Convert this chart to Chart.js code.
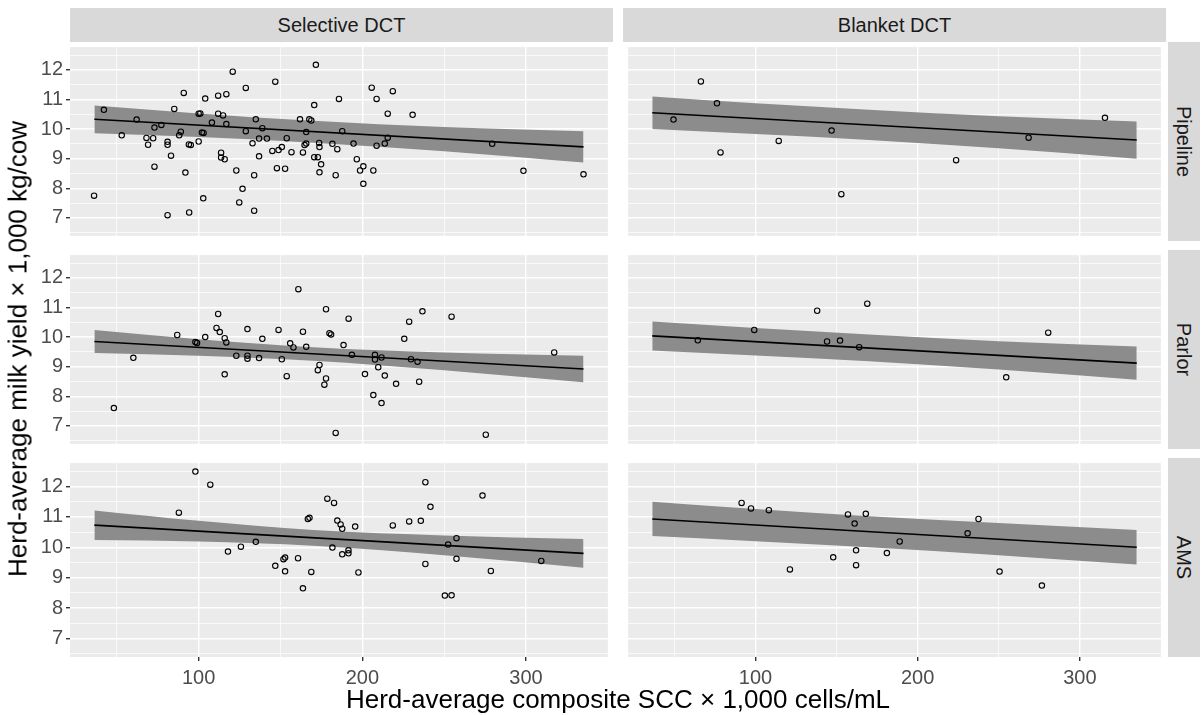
<!DOCTYPE html>
<html>
<head>
<meta charset="utf-8">
<script src="https://cdn.jsdelivr.net/npm/chart.js@4.4.1/dist/chart.umd.min.js"></script>
<style>
  body { margin: 0; background: #fff; font-family: "Liberation Sans", Arial, sans-serif; }
  #page { position: relative; width: 1203px; height: 715px; overflow: hidden; }
  .box { position: absolute; }
  .strip { position: absolute; background: #d9d9d9; color: #1a1a1a; font-size: 20px;
           display: flex; align-items: center; justify-content: center; white-space: nowrap; }
  .strip.side span { transform: rotate(90deg); }
  .title { position: absolute; color: #000; font-size: 26px; white-space: nowrap; transform: translate(-50%, -50%); }
</style>
</head>
<body>
<div id="page"></div>
<script>
// ===== DATA =====
const treatments = ["Selective DCT", "Blanket DCT"];
const systems = ["Pipeline", "Parlor", "AMS"];

const xGrid = [50, 100, 150, 200, 250, 300];
const xLabels = ["", "100", "", "200", "", "300"];
const yGrid = [6.5, 7, 7.5, 8, 8.5, 9, 9.5, 10, 10.5, 11, 11.5, 12, 12.5];
const yLabels = ["", "7", "", "8", "", "9", "", "10", "", "11", "", "12", ""];

// Selective DCT - Pipeline
const selPipeX = [36.1, 42.1, 53.0, 62.1, 68.1, 69.1, 72.2, 73.0, 73.0, 77.2,
  81.0, 81.0, 81.0, 83.1, 85.1, 88.1, 89.1, 90.9, 91.9, 94.0,
  95.2, 94.2, 100.0, 100.0, 101.0, 102.0, 103.0, 102.8, 104.0, 108.1,
  111.9, 111.9, 113.7, 113.7, 114.9, 115.9, 116.9, 116.9, 120.8, 123.0,
  124.8, 126.8, 128.8, 128.8, 132.9, 133.9, 133.9, 134.9, 136.9, 136.9,
  138.9, 141.7, 145.0, 146.8, 147.8, 148.8, 150.8, 152.8, 153.8, 156.7,
  161.9, 163.7, 164.7, 165.7, 165.7, 167.6, 168.8, 170.6, 170.6, 171.6,
  172.8, 173.6, 173.8, 173.8, 174.8,
  181.7, 183.7, 184.7, 185.7, 187.7, 194.6, 196.6, 198.6, 200.6, 200.6,
  205.7, 206.7, 208.7, 208.7, 213.7, 215.5, 215.5, 218.6, 230.7, 279.3, 298.4, 335.1];
const selPipeY = [7.75, 10.65, 9.79, 10.32, 9.70, 9.47, 9.69, 10.05, 8.73, 10.14,
  9.57, 9.47, 7.09, 9.10, 10.68, 9.79, 9.91, 11.22, 8.53, 9.48,
  9.46, 7.18, 9.58, 10.52, 10.53, 9.88, 9.87, 7.66, 11.03, 10.22,
  11.13, 10.52, 9.20, 9.04, 10.46, 8.98, 11.18, 10.17, 11.94, 8.60,
  7.52, 7.98, 11.39, 9.93, 9.52, 8.44, 7.24, 10.33, 9.68, 9.08,
  10.03, 9.68, 9.26, 11.60, 8.68, 9.29, 9.39, 8.66, 9.69, 9.22,
  10.33, 9.21, 9.46, 9.90, 9.51, 10.33, 10.29, 10.81, 9.05, 12.17,
  9.05, 9.53, 8.54, 9.39, 8.81,
  9.50, 8.44, 9.32, 11.02, 9.93, 9.51, 8.98, 8.60, 8.74, 8.15,
  11.40, 8.60, 11.02, 9.44, 9.51, 9.71, 10.52, 11.28, 10.48, 9.50, 8.59, 8.47];

// Selective DCT - Parlor
const selParX = [48.2, 60.1, 86.9, 98.0, 99.0, 104.0, 111.9, 110.9, 112.9, 115.9,
  116.9, 115.9, 123.0, 129.8, 129.8, 129.8, 136.9, 138.9, 148.8, 150.8,
  153.8, 155.9, 157.9, 160.9, 163.7, 165.7, 172.8, 173.8, 176.8, 177.8,
  177.8, 179.9, 180.9, 183.7, 191.6, 188.5, 193.6, 201.6, 206.7, 207.7,
  207.7, 209.7, 211.7, 211.7, 213.7, 220.6, 225.6, 228.6, 229.7, 233.7,
  234.7, 236.7, 254.5, 275.4, 317.2];
const selParY = [7.60, 9.30, 10.07, 9.83, 9.80, 10.00, 10.78, 10.31, 10.17, 9.96,
  9.82, 8.74, 9.37, 10.27, 9.37, 9.27, 9.29, 9.94, 10.24, 9.25,
  8.68, 9.79, 9.65, 11.62, 10.18, 9.67, 8.88, 9.06, 8.39, 8.60,
  10.94, 10.13, 10.09, 6.76, 10.62, 9.73, 9.40, 8.75, 8.04, 9.40,
  9.24, 8.98, 9.31, 7.77, 8.70, 8.42, 9.94, 10.52, 9.25, 9.17,
  8.49, 10.87, 10.69, 6.70, 9.48];

// Selective DCT - AMS
const selAmsX = [98.0, 107.1, 87.9, 117.9, 125.8, 134.9, 146.8, 151.8, 152.8, 152.8,
  160.7, 163.7, 166.7, 167.7, 168.8, 178.6, 181.7, 182.7, 184.7, 186.7,
  187.7, 187.7, 191.5, 191.5, 195.6, 197.6, 218.6, 228.6, 235.7, 238.5,
  238.5, 241.6, 250.4, 252.4, 254.5, 257.5, 257.5, 273.4, 278.5, 309.3];
const selAmsY = [12.49, 12.06, 11.14, 9.86, 10.02, 10.18, 9.39, 9.61, 9.66, 9.21,
  9.64, 8.65, 10.93, 10.97, 9.19, 11.60, 9.99, 11.46, 10.88, 10.75,
  10.61, 9.77, 9.90, 9.80, 10.68, 9.17, 10.72, 10.85, 10.87, 12.14,
  9.45, 11.33, 8.41, 10.09, 8.42, 10.30, 9.62, 11.70, 9.22, 9.55];

// Blanket DCT
const blaPipeX = [49.4, 66.3, 76.2, 78.4, 114.3, 146.9, 152.9, 223.7, 268.4, 315.5];
const blaPipeY = [10.32, 11.61, 10.87, 9.21, 9.60, 9.95, 7.80, 8.95, 9.71, 10.38];
const blaParX = [64.4, 99.2, 138.0, 144.1, 152.1, 163.9, 168.9, 254.6, 280.5];
const blaParY = [9.89, 10.24, 10.89, 9.85, 9.88, 9.66, 11.13, 8.64, 10.15];
const blaAmsX = [91.4, 97.2, 108.2, 121.2, 147.9, 157.0, 161.1, 162.0, 162.0, 168.0,
  181.0, 188.9, 230.8, 237.5, 250.5, 276.6];
const blaAmsY = [11.46, 11.28, 11.22, 9.27, 9.67, 11.08, 10.78, 9.90, 9.41, 11.10,
  9.81, 10.19, 10.46, 10.93, 9.20, 8.74];

// fitted lines (ends) and confidence band
const fitX = [36.3, 335.1];
const bandX = [36.3, 100, 170, 250, 335.1];
const selPipeFit = [10.33, 9.40];
const selPipeHi = [10.80, 10.53, 10.28, 10.07, 9.93];
const selPipeLo = [9.86, 9.73, 9.54, 9.25, 8.87];
const selParFit = [9.85, 8.92];
const selParHi = [10.24, 9.93, 9.66, 9.48, 9.37];
const selParLo = [9.46, 9.37, 9.20, 8.88, 8.47];
const selAmsFit = [10.73, 9.80];
const selAmsHi = [11.21, 10.87, 10.57, 10.39, 10.27];
const selAmsLo = [10.24, 10.19, 10.05, 9.74, 9.33];
const blaPipeFit = [10.55, 9.63];
const blaPipeHi = [11.10, 10.87, 10.65, 10.43, 10.26];
const blaPipeLo = [10.00, 9.83, 9.63, 9.35, 9.00];
const blaParFit = [10.04, 9.12];
const blaParHi = [10.53, 10.31, 10.09, 9.86, 9.68];
const blaParLo = [9.55, 9.38, 9.18, 8.90, 8.56];
const blaAmsFit = [10.93, 10.00];
const blaAmsHi = [11.50, 11.26, 11.02, 10.80, 10.57];
const blaAmsLo = [10.37, 10.20, 10.00, 9.74, 9.43];

const xMin = 21.4, xMax = 350.0;
const yMin = 6.39, yMax = 12.77;

// ===== LAYOUT =====
const colLeft = [70, 623];
const rowTop = [42, 250, 458];
const panelW = 543, panelH = 199;
const fontFamily = "'Liberation Sans', Arial, sans-serif";

const panels = [
  { row: 0, col: 0, x: selPipeX, y: selPipeY, fit: selPipeFit, hi: selPipeHi, lo: selPipeLo },
  { row: 1, col: 0, x: selParX, y: selParY, fit: selParFit, hi: selParHi, lo: selParLo },
  { row: 2, col: 0, x: selAmsX, y: selAmsY, fit: selAmsFit, hi: selAmsHi, lo: selAmsLo },
  { row: 0, col: 1, x: blaPipeX, y: blaPipeY, fit: blaPipeFit, hi: blaPipeHi, lo: blaPipeLo },
  { row: 1, col: 1, x: blaParX, y: blaParY, fit: blaParFit, hi: blaParHi, lo: blaParLo },
  { row: 2, col: 1, x: blaAmsX, y: blaAmsY, fit: blaAmsFit, hi: blaAmsHi, lo: blaAmsLo },
];

const page = document.getElementById("page");

// panel background
const panelBg = {
  id: "panelBg",
  beforeDraw(chart) {
    const { ctx, chartArea: a } = chart;
    ctx.save();
    ctx.fillStyle = "#ebebeb";
    ctx.fillRect(a.left, a.top, a.right - a.left, a.bottom - a.top);
    ctx.restore();
  },
};

function pairs(xs, ys) {
  return xs.map((v, i) => ({ x: v, y: ys[i] }));
}

function makePanel(p) {
  const left = p.col === 0;
  const bottom = p.row === 2;
  const axisW = left ? 70 : 0;
  const axisH = bottom ? 32 : 0;

  const box = document.createElement("div");
  box.className = "box";
  box.style.left = colLeft[p.col] - axisW + "px";
  box.style.top = rowTop[p.row] + "px";
  const canvas = document.createElement("canvas");
  canvas.width = panelW + axisW;
  canvas.height = panelH + axisH;
  box.appendChild(canvas);
  page.appendChild(box);

  const tickFont = { family: fontFamily, size: 20 };
  const xMajor = (c) => c.tick && xGrid.indexOf(c.tick.value) % 2 === 1;
  const yMajor = (c) => c.tick && yGrid.indexOf(c.tick.value) % 2 === 1;

  new Chart(canvas.getContext("2d"), {
    type: "scatter",
    data: {
      datasets: [
        {
          type: "scatter",
          data: pairs(p.x, p.y),
          pointStyle: "circle",
          pointRadius: 2.7,
          borderColor: "#000",
          borderWidth: 1.1,
          backgroundColor: "rgba(0,0,0,0)",
          order: 0,
        },
        {
          type: "line",
          data: pairs(fitX, p.fit),
          borderColor: "#000",
          borderWidth: 1.6,
          pointRadius: 0,
          fill: false,
          order: 1,
        },
        {
          type: "line",
          data: pairs(bandX, p.hi),
          borderColor: "rgba(0,0,0,0)",
          borderWidth: 0,
          pointRadius: 0,
          backgroundColor: "#8c8c8c",
          fill: "+1",
          cubicInterpolationMode: "monotone",
          order: 2,
        },
        {
          type: "line",
          data: pairs(bandX, p.lo),
          borderColor: "rgba(0,0,0,0)",
          borderWidth: 0,
          pointRadius: 0,
          fill: false,
          cubicInterpolationMode: "monotone",
          order: 3,
        },
      ],
    },
    options: {
      responsive: false,
      animation: false,
      events: [],
      layout: { padding: 0 },
      plugins: { legend: { display: false }, tooltip: { enabled: false } },
      scales: {
        x: {
          type: "linear",
          min: xMin,
          max: xMax,
          afterBuildTicks: (s) => { s.ticks = xGrid.map((v) => ({ value: v })); },
          afterFit: (s) => { s.height = axisH; s.paddingLeft = 0; s.paddingRight = 0; },
          border: { display: false },
          grid: {
            color: "#ffffff",
            lineWidth: (c) => (xMajor(c) ? 1.4 : 0.7),
            drawTicks: bottom,
            tickLength: 4,
            tickColor: (c) => (xMajor(c) ? "#333333" : "rgba(0,0,0,0)"),
          },
          ticks: {
            display: bottom,
            autoSkip: false,
            maxRotation: 0,
            padding: 5,
            color: "#4d4d4d",
            font: tickFont,
            callback: (v, i) => xLabels[i],
          },
        },
        y: {
          type: "linear",
          min: yMin,
          max: yMax,
          afterBuildTicks: (s) => { s.ticks = yGrid.map((v) => ({ value: v })); },
          afterFit: (s) => { s.width = axisW; s.paddingTop = 0; s.paddingBottom = 0; },
          border: { display: false },
          grid: {
            color: "#ffffff",
            lineWidth: (c) => (yMajor(c) ? 1.4 : 0.7),
            drawTicks: left,
            tickLength: 4,
            tickColor: (c) => (yMajor(c) ? "#333333" : "rgba(0,0,0,0)"),
          },
          ticks: {
            display: left,
            autoSkip: false,
            padding: 3,
            color: "#4d4d4d",
            font: tickFont,
            callback: (v, i) => yLabels[i],
          },
        },
      },
    },
    plugins: [panelBg],
  });
}

panels.forEach(makePanel);

// ===== STRIPS AND TITLES =====
treatments.forEach((t, c) => {
  const s = document.createElement("div");
  s.className = "strip";
  s.style.left = colLeft[c] + "px";
  s.style.top = "8px";
  s.style.width = panelW + "px";
  s.style.height = "34px";
  s.textContent = t;
  page.appendChild(s);
});

systems.forEach((t, r) => {
  const s = document.createElement("div");
  s.className = "strip side";
  s.style.left = "1168px";
  s.style.top = rowTop[r] + "px";
  s.style.width = "32px";
  s.style.height = panelH + "px";
  s.innerHTML = "<span>" + t + "</span>";
  page.appendChild(s);
});

const xTitle = document.createElement("div");
xTitle.className = "title";
xTitle.style.left = "618px";
xTitle.style.top = "699px";
xTitle.textContent = "Herd-average composite SCC \u00d7 1,000 cells/mL";
page.appendChild(xTitle);

const yTitle = document.createElement("div");
yTitle.className = "title";
yTitle.style.left = "18px";
yTitle.style.top = "349px";
yTitle.style.transform = "translate(-50%, -50%) rotate(-90deg)";
yTitle.textContent = "Herd-average milk yield \u00d7 1,000 kg/cow";
page.appendChild(yTitle);
</script>
</body>
</html>
